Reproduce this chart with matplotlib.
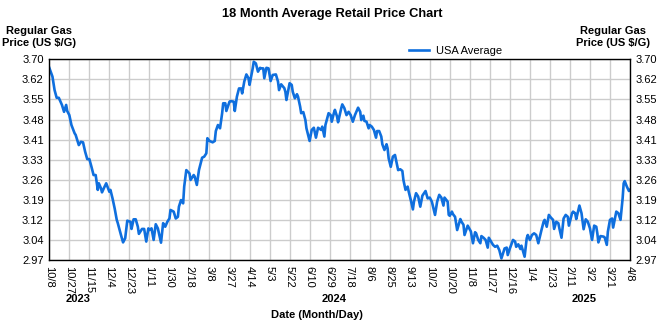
import matplotlib
matplotlib.use("Agg")
import matplotlib.pyplot as plt
import matplotlib.transforms as mtransforms
import numpy as np

plt.rcParams['font.family'] = ['Liberation Sans', 'DejaVu Sans']

# Days elapsed since 10/8/2023 and the national average regular gas price (US $/gal)
days = [
    0, 3, 5, 7, 9, 12, 14, 16, 17, 19, 21, 24, 25, 28, 30, 32, 34, 36, 38, 40,
    42, 44, 46, 47, 49, 50, 52, 54, 57, 58, 60, 62, 64, 65, 68, 70, 72, 74, 77, 78,
    80, 82, 84, 85, 88, 90, 92, 94, 95,
    97, 99, 101, 103, 106, 108, 110, 112, 114, 115, 118, 120, 122, 123, 125, 127, 128, 130, 133, 134,
    137, 138, 140, 142, 145, 147, 149, 150, 152, 155, 157, 158, 160, 162, 164, 165, 167, 168, 171, 172,
    175, 176, 178, 180, 182, 183, 185, 187, 189, 190,
    193, 194, 196, 198, 200, 201, 203, 204, 206, 208, 210, 212, 215, 217, 218, 220, 223, 224, 225, 228,
    230, 231, 233, 235, 236, 238, 239, 241, 243, 244, 247, 249, 251, 253, 255, 258, 259, 261, 262, 265,
    267, 268, 270, 271, 273, 274, 277, 278, 280, 282,
    284, 286, 288, 290, 293, 295, 296, 298, 299, 301, 303, 304, 306, 308, 310, 311, 313, 315, 316, 318,
    320, 321, 322, 324, 326, 328, 329, 331, 333, 335, 336, 338, 340, 341, 343, 345, 346, 348, 350, 352,
    354, 357, 359, 361, 363, 366, 368, 370, 372, 374, 375, 378, 379,
    380, 382, 383, 385, 387, 390, 391, 393, 394, 397, 398, 400, 402, 404, 405, 407, 409, 410, 412, 414,
    416, 417, 420, 421, 423, 425, 427, 429, 432, 434, 435, 437, 440, 442, 443, 445, 447, 448, 451, 453,
    454, 456, 458, 460, 462, 464,
    467, 469, 470, 472, 474, 476, 478, 479, 481, 483, 484, 486, 488, 490, 492, 493, 496, 497, 499, 500,
    502, 503, 505, 507, 509, 511, 513, 515, 517, 519, 520, 521, 523, 526, 527, 529, 530, 532, 534, 535,
    537, 538, 540, 542, 544, 545, 546, 548, 550, 551,
]
prices = [
    3.669, 3.637, 3.588, 3.560, 3.560, 3.534, 3.509, 3.534, 3.512, 3.497, 3.461, 3.431, 3.425, 3.388, 3.400, 3.398, 3.364, 3.337, 3.337, 3.309,
    3.279, 3.279, 3.225, 3.249, 3.231, 3.216, 3.233, 3.249, 3.218, 3.225, 3.194, 3.158, 3.116, 3.104, 3.061, 3.034, 3.049, 3.113, 3.109, 3.083,
    3.118, 3.118, 3.091, 3.065, 3.083, 3.083, 3.037, 3.085, 3.079,
    3.085, 3.043, 3.100, 3.085, 3.033, 3.104, 3.091, 3.109, 3.121, 3.152, 3.146, 3.121, 3.127, 3.164, 3.188, 3.176, 3.237, 3.297, 3.285, 3.261,
    3.279, 3.273, 3.243, 3.297, 3.342, 3.346, 3.358, 3.413, 3.403, 3.398, 3.403, 3.439, 3.461, 3.449, 3.504, 3.540, 3.540, 3.512, 3.546, 3.548,
    3.546, 3.512, 3.564, 3.594, 3.594, 3.576, 3.619, 3.645, 3.631, 3.607,
    3.667, 3.691, 3.685, 3.655, 3.669, 3.667, 3.667, 3.631, 3.669, 3.667, 3.621, 3.643, 3.645, 3.619, 3.588, 3.609, 3.595, 3.582, 3.552, 3.613,
    3.607, 3.582, 3.558, 3.573, 3.564, 3.528, 3.504, 3.508, 3.479, 3.449, 3.403, 3.443, 3.451, 3.415, 3.451, 3.443, 3.455, 3.419, 3.461, 3.504,
    3.497, 3.473, 3.504, 3.516, 3.492, 3.471, 3.522, 3.536, 3.522, 3.497,
    3.509, 3.497, 3.473, 3.497, 3.524, 3.509, 3.479, 3.495, 3.476, 3.473, 3.449, 3.461, 3.455, 3.443, 3.415, 3.439, 3.439, 3.419, 3.391, 3.370,
    3.391, 3.376, 3.340, 3.309, 3.346, 3.352, 3.334, 3.297, 3.300, 3.294, 3.261, 3.225, 3.237, 3.219, 3.188, 3.154, 3.182, 3.213, 3.201, 3.164,
    3.204, 3.221, 3.194, 3.197, 3.182, 3.134, 3.182, 3.207, 3.197, 3.168, 3.197, 3.182, 3.134,
    3.131, 3.146, 3.137, 3.127, 3.079, 3.119, 3.110, 3.098, 3.061, 3.095, 3.088, 3.074, 3.031, 3.071, 3.067, 3.043, 3.031, 3.057, 3.051, 3.043,
    3.015, 3.051, 3.031, 3.025, 3.018, 3.022, 3.006, 2.976, 3.012, 3.015, 2.988, 3.012, 3.043, 3.037, 3.018, 3.027, 3.010, 3.022, 2.982, 3.049,
    3.061, 3.043, 3.061, 3.067, 3.061, 3.031,
    3.079, 3.109, 3.116, 3.091, 3.134, 3.124, 3.116, 3.083, 3.109, 3.104, 3.085, 3.051, 3.121, 3.134, 3.127, 3.095, 3.140, 3.146, 3.140, 3.119,
    3.152, 3.168, 3.140, 3.082, 3.118, 3.109, 3.085, 3.043, 3.095, 3.091, 3.067, 3.034, 3.057, 3.055, 3.052, 3.025, 3.073, 3.116, 3.121, 3.088,
    3.128, 3.146, 3.140, 3.116, 3.194, 3.249, 3.257, 3.237, 3.221, 3.225,
]

tick_labels = [
    "10/8", "10/27", "11/15", "12/4", "12/23", "1/11", "1/30", "2/18", "3/8", "3/27",
    "4/14", "5/3", "5/22", "6/10", "6/29", "7/18", "8/6", "8/25", "9/13", "10/2",
    "10/20", "11/8", "11/27", "12/16", "1/4", "1/23", "2/11", "3/2", "3/21", "4/8",
]
tick_step_days = 19
y_labels = ["2.97", "3.04", "3.12", "3.19", "3.26", "3.33", "3.41", "3.48", "3.55", "3.62", "3.70"]
y_min, y_max = 2.97, 3.70
years = ["2023", "2024", "2025"]
year_day = [27, 270, 507]

W, H = 661, 329
fig = plt.figure(figsize=(W / 100, H / 100), dpi=100)
ax = fig.add_axes([49.3 / W, 1 - 260 / H, (630 - 49.3) / W, (260 - 59.3) / H])

line_color = "#0F6FDE"
ax.plot(days, prices, color=line_color, lw=1.9, solid_joinstyle="round")

x_ticks = np.arange(len(tick_labels)) * tick_step_days
ax.set_xlim(x_ticks[0], x_ticks[-1])
ax.set_ylim(y_min, y_max)
y_ticks = np.linspace(y_min, y_max, len(y_labels))
ax.set_yticks(y_ticks)
ax.set_yticklabels(y_labels)
ax.set_xticks(x_ticks)
ax.set_xticklabels(tick_labels, rotation=270, va="top", ha="center")

ax.grid(True, color="#CCCCCC", lw=1.0)
ax.set_axisbelow(True)
for sp in ax.spines.values():
    sp.set_color("black")
    sp.set_linewidth(1.0)

ax.tick_params(axis="both", length=0, labelsize=8, colors="black")
ax.tick_params(axis="x", pad=4.5)
ax.tick_params(axis="y", pad=4, labelright=True, right=False)

# Year labels under the date ticks (x in data days, y in figure fraction)
year_trans = mtransforms.blended_transform_factory(ax.transData, fig.transFigure)
for yr, d in zip(years, year_day):
    ax.text(d, 1 - 298.5 / H, yr, transform=year_trans, ha="center", va="center",
            fontsize=8, fontweight="bold")

fig.text(317 / W, 1 - 315.5 / H, "Date (Month/Day)", ha="center", va="center",
         fontsize=8, fontweight="bold")
fig.text(332 / W, 1 - 13.5 / H, "18 Month Average Retail Price Chart", ha="center",
         va="center", fontsize=9.3, fontweight="bold")
for xc in (38.5 / W, 613.5 / W):
    fig.text(xc, 1 - 37 / H, "Regular Gas\nPrice (US $/G)", ha="center", va="center",
             fontsize=8, fontweight="bold", linespacing=1.25)

# Legend
fig.legend(handles=ax.lines, labels=["USA Average"], loc="center left",
           bbox_to_anchor=(409 / W, 1 - 50.5 / H), frameon=False, fontsize=8,
           handlelength=1.8, handletextpad=0.6, borderpad=0, borderaxespad=0)

fig.savefig("out.png", dpi=100)
